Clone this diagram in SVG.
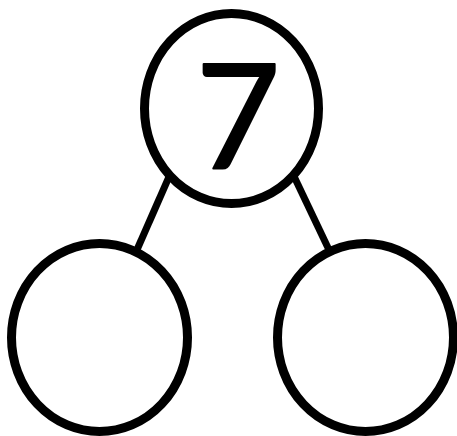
<svg xmlns="http://www.w3.org/2000/svg" width="457" height="436" viewBox="0 0 457 436">
  <style>
    .node { fill: #ffffff; stroke: #000000; stroke-width: 9; }
    .conn { stroke: #000000; stroke-width: 7; fill: none; }
    .label { font-family: "Lato", "DejaVu Sans", sans-serif; font-size: 146px; fill: #000000; stroke: #000000; stroke-width: 2; stroke-linejoin: round; }
  </style>
  <rect width="457" height="436" fill="#ffffff"/>
  <g id="connectors">
    <line class="conn" x1="172" y1="170" x2="136" y2="252"/>
    <line class="conn" x1="291" y1="170" x2="330" y2="252"/>
  </g>
  <g id="node-top">
    <ellipse class="node" cx="231.5" cy="108.5" rx="87" ry="95"/>
    <text class="label" x="238" y="168" text-anchor="middle">7</text>
  </g>
  <g id="node-left">
    <ellipse class="node" cx="99.5" cy="337.5" rx="88" ry="94"/>
  </g>
  <g id="node-right">
    <ellipse class="node" cx="365.5" cy="337.5" rx="88" ry="94"/>
  </g>
</svg>
